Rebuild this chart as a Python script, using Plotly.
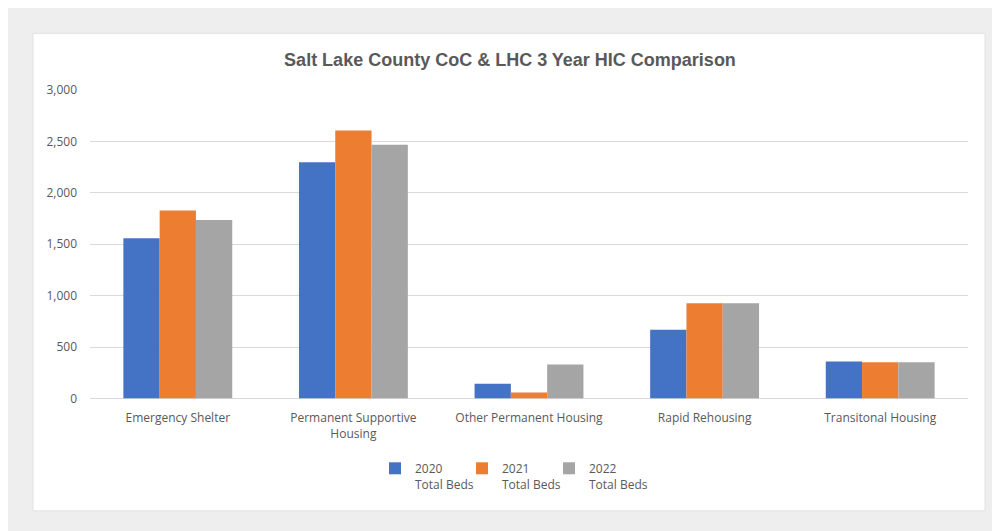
import plotly.graph_objects as go

categories = [
    "Emergency Shelter",
    "Permanent Supportive<br>Housing",
    "Other Permanent Housing",
    "Rapid Rehousing",
    "Transitonal Housing",
]
beds_2020 = [1558, 2297, 142, 668, 358]
beds_2021 = [1829, 2606, 58, 926, 352]
beds_2022 = [1735, 2468, 329, 926, 352]
series_names = ["2020<br>Total Beds", "2021<br>Total Beds", "2022<br>Total Beds"]
series_colors = ["#4472C4", "#ED7D31", "#A5A5A5"]

# the page body adds an 8px margin, so the figure is a bit smaller than the window
W, H = 992, 523
L, R, T, B = 82, 32, 82, 131
pw, ph = W - L - R, H - T - B


def px_x(x):
    return (x - L) / pw


def px_y(y):
    return (H - B - y) / ph


fig = go.Figure()
for name, vals, col in zip(series_names, [beds_2020, beds_2021, beds_2022], series_colors):
    fig.add_trace(go.Bar(
        x=categories,
        y=vals,
        name=name,
        marker=dict(color=col, line=dict(width=0)),
    ))

# empty legend entry so the last label is not clipped by the narrow entry width
fig.add_trace(go.Scatter(
    x=[None], y=[None], mode="markers", name=" ",
    marker=dict(color="rgba(0,0,0,0)", size=1, line=dict(width=0)),
    hoverinfo="skip",
))

# white chart panel on the grey page
fig.add_shape(type="rect", xref="paper", yref="paper",
              x0=px_x(25), x1=px_x(977), y0=px_y(505), y1=px_y(25),
              fillcolor="white", line=dict(color="#e2e2e2", width=1), layer="below")

fig.update_layout(
    width=W,
    height=H,
    margin=dict(l=L, r=R, t=T, b=B),
    paper_bgcolor="#eeeeee",
    plot_bgcolor="rgba(0,0,0,0)",
    barmode="group",
    bargap=0.38,
    bargroupgap=0,
    title=dict(
        text="<b>Salt Lake County CoC & LHC 3 Year HIC Comparison</b>",
        x=502 / W, xref="container", xanchor="center",
        y=1 - 52 / H, yref="container", yanchor="middle",
        font=dict(family="Liberation Sans, Arial", size=18, color="#595959"),
    ),
    font=dict(family="Open Sans", size=12, color="#595959"),
    legend=dict(
        orientation="h",
        x=541 / W, xref="container", xanchor="center",
        y=1 - 446 / H, yref="container", yanchor="top",
        valign="top",
        bgcolor="rgba(0,0,0,0)",
        font=dict(family="Open Sans", size=12, color="#595959"),
        itemwidth=30,
        entrywidth=42,
        entrywidthmode="pixels",
    ),
    showlegend=True,
)
fig.update_xaxes(
    showline=False,
    ticks="",
    ticklabelstandoff=11,
    tickfont=dict(size=12, color="#595959"),
)
fig.update_yaxes(
    range=[0, 3000],
    dtick=500,
    tickformat=",",
    showgrid=True,
    gridcolor="#d9d9d9",
    gridwidth=1,
    zeroline=True,
    zerolinecolor="#d9d9d9",
    zerolinewidth=1,
    ticks="",
    ticklabelstandoff=12,
    tickfont=dict(size=12, color="#595959"),
)

fig.write_html("out.html")
